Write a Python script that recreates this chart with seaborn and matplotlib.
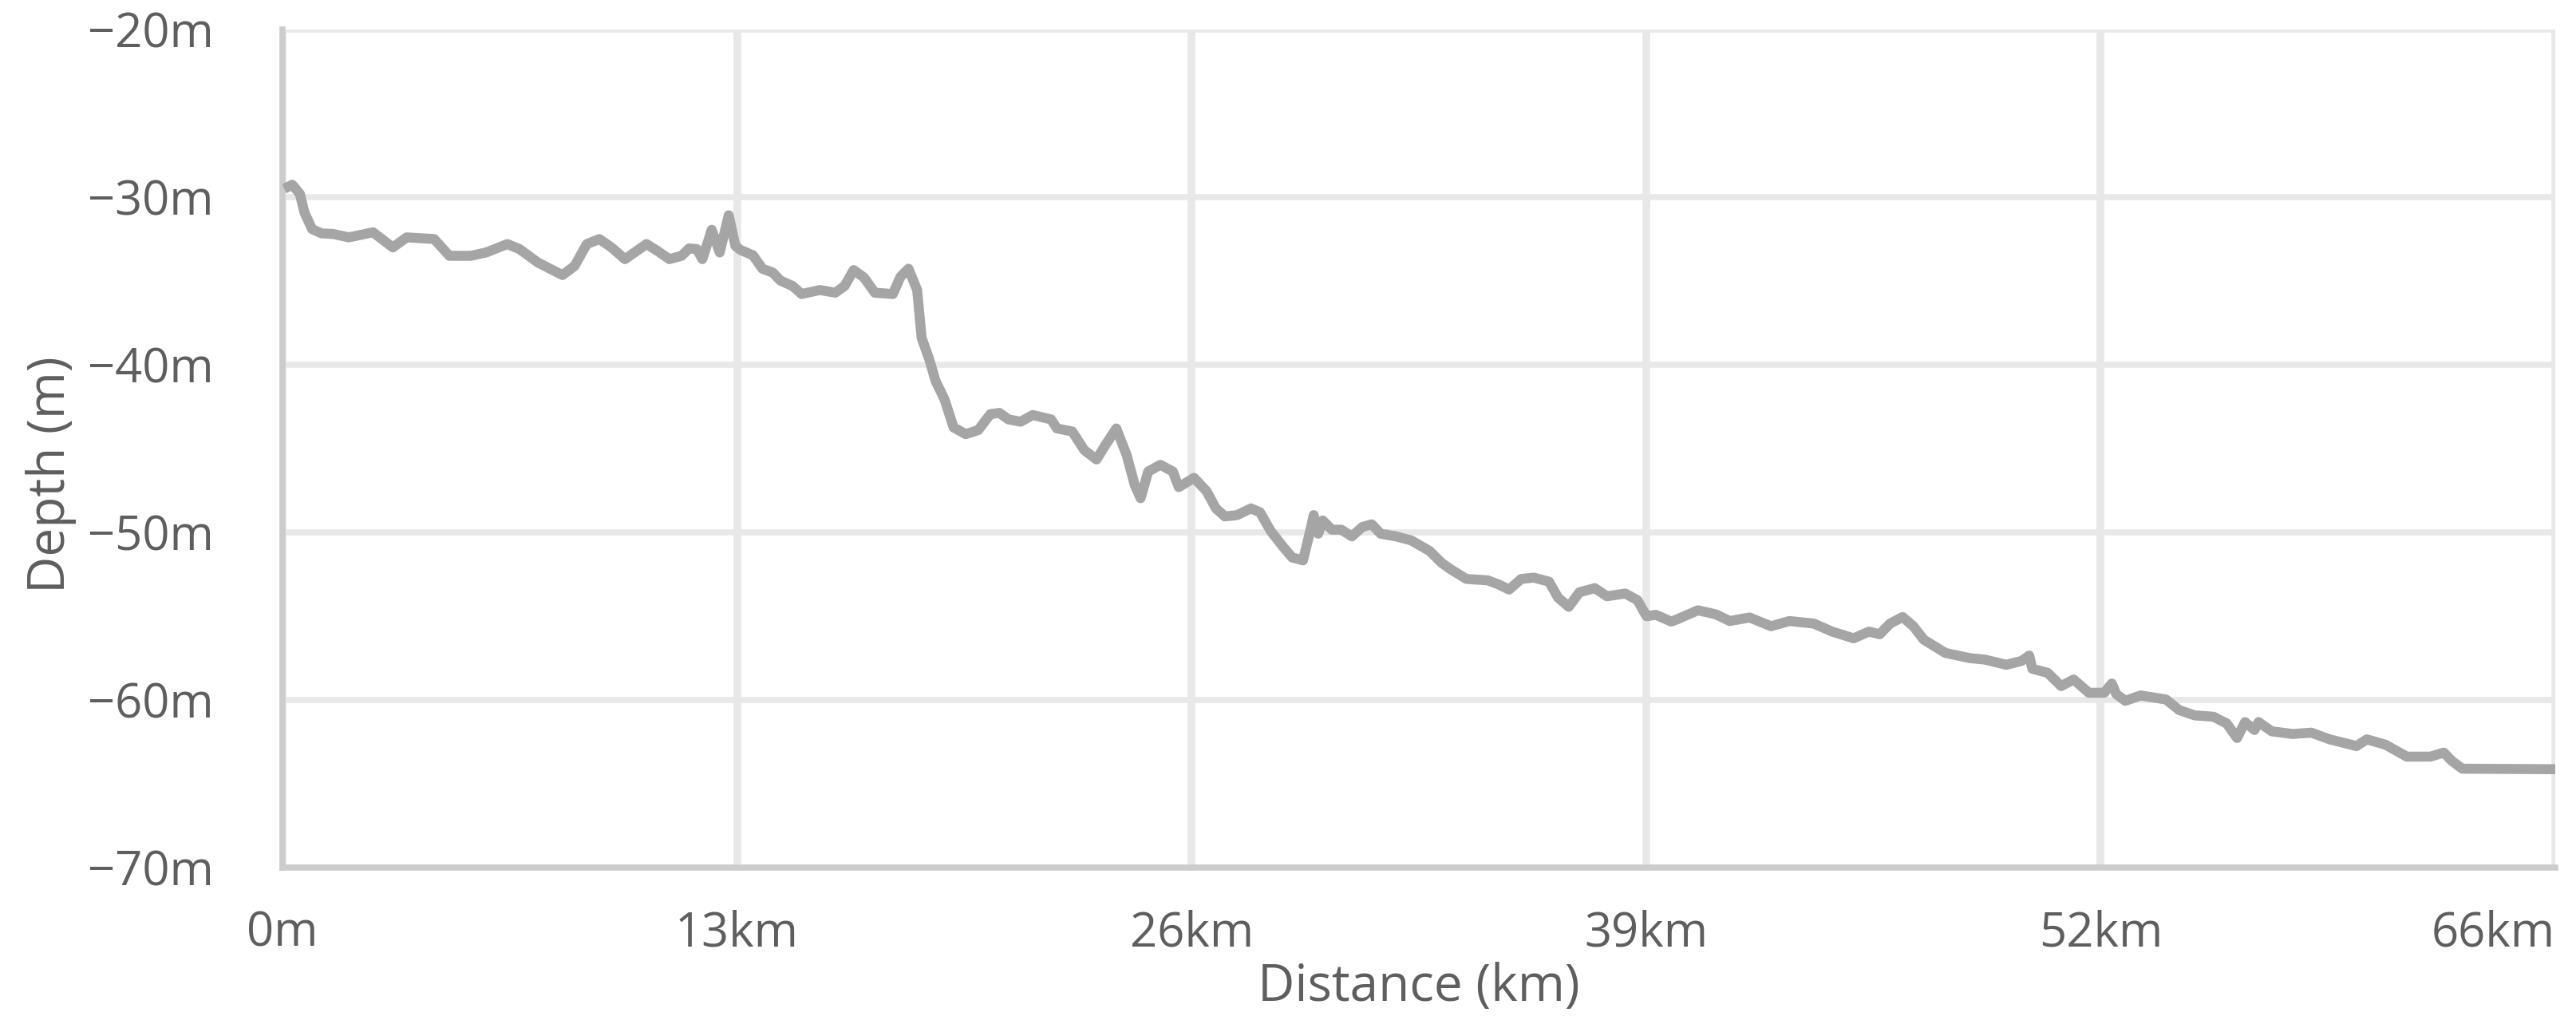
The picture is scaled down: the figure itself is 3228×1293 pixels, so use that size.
import matplotlib.pyplot as plt
import numpy as np
import pandas as pd
import seaborn as sns


# depth profile
distance_km = [
    0.05, 0.28, 0.50, 0.63, 0.85, 1.12, 1.47, 1.91, 2.61, 3.18, 3.58, 4.37,
    4.81, 5.43, 5.87, 6.48, 6.83, 7.36, 8.07, 8.42, 8.77, 9.13, 9.48, 9.87,
    10.49, 10.80, 11.15, 11.50, 11.72, 11.94, 12.10, 12.37, 12.60, 12.86,
    13.05, 13.20, 13.56, 13.83, 14.13, 14.35, 14.70, 14.96, 15.49, 15.93,
    16.20, 16.46, 16.76, 17.07, 17.59, 17.81, 18.04, 18.29, 18.42, 18.64,
    18.82, 19.08, 19.34, 19.69, 20.05, 20.40, 20.66, 20.92, 21.27, 21.62,
    22.15, 22.32, 22.76, 23.11, 23.46, 23.72, 24.03, 24.33, 24.56, 24.73,
    24.95, 25.30, 25.66, 25.83, 26.27, 26.63, 26.90, 27.16, 27.51, 27.91,
    28.17, 28.48, 28.84, 29.10, 29.41, 29.58, 29.72, 29.85, 29.98, 30.24,
    30.51, 30.82, 31.12, 31.39, 31.65, 32.09, 32.53, 33.06, 33.41, 33.68,
    34.12, 34.73, 35.04, 35.35, 35.70, 36.06, 36.50, 36.76, 37.07, 37.38,
    37.82, 38.17, 38.70, 39.05, 39.31, 39.58, 40.02, 40.17, 40.79, 41.31,
    41.71, 42.28, 42.90, 43.43, 44.13, 44.66, 45.28, 45.72, 46.03, 46.33,
    46.69, 47.00, 47.30, 47.92, 48.62, 49.06, 49.68, 50.12, 50.34, 50.43,
    50.87, 51.26, 51.62, 52.06, 52.50, 52.72, 52.85, 53.11, 53.55, 54.28,
    54.66, 55.11, 55.65, 56.03, 56.33, 56.56, 56.83, 56.95, 57.33, 57.94,
    58.47, 59.00, 59.77, 60.07, 60.61, 61.22, 61.90, 62.29, 62.51, 62.82,
    65.50
]
depth_m = [
    -29.50, -29.26, -29.80, -30.90, -31.90, -32.16, -32.20, -32.40, -32.10,
    -33.00, -32.40, -32.50, -33.50, -33.50, -33.30, -32.80, -33.10, -33.90,
    -34.65, -34.10, -32.80, -32.50, -33.00, -33.70, -32.80, -33.20, -33.70,
    -33.50, -33.06, -33.10, -33.70, -31.95, -33.30, -31.08, -32.90, -33.15,
    -33.47, -34.27, -34.50, -34.98, -35.30, -35.78, -35.54, -35.70, -35.30,
    -34.35, -34.80, -35.70, -35.78, -34.75, -34.27, -35.54, -38.40, -39.68,
    -40.96, -42.07, -43.74, -44.14, -43.90, -42.95, -42.87, -43.26, -43.40,
    -43.00, -43.26, -43.80, -43.98, -45.10, -45.65, -44.78, -43.80, -45.40,
    -47.17, -47.96, -46.37, -45.97, -46.37, -47.30, -46.75, -47.54, -48.57,
    -49.05, -48.97, -48.57, -48.80, -49.92, -50.87, -51.50, -51.67, -50.24,
    -48.97, -50.08, -49.29, -49.84, -49.84, -50.24, -49.68, -49.52, -50.08,
    -50.24, -50.48, -51.11, -51.83, -52.22, -52.78, -52.86, -53.10, -53.41,
    -52.78, -52.70, -52.94, -53.89, -54.44, -53.57, -53.33, -53.81, -53.65,
    -54.05, -55.00, -54.92, -55.32, -55.21, -54.65, -54.89, -55.29, -55.08,
    -55.60, -55.29, -55.44, -55.92, -56.32, -55.92, -56.08, -55.44, -55.05,
    -55.60, -56.40, -57.19, -57.50, -57.59, -57.90, -57.67, -57.35, -58.14,
    -58.38, -59.17, -58.78, -59.57, -59.57, -59.02, -59.65, -60.05, -59.73,
    -59.97, -60.60, -60.92, -61.00, -61.40, -62.27, -61.32, -61.79, -61.32,
    -61.87, -62.03, -61.95, -62.35, -62.75, -62.35, -62.67, -63.38, -63.38,
    -63.14, -63.62, -64.10, -64.13
]

total_km = 65.5
x_ticks = [0, 13.1, 26.2, 39.3, 52.4, 65.5]
x_tick_labels = ['0m', '13km', '26km', '39km', '52km', '66km']
y_ticks = [-70, -60, -50, -40, -30, -20]
y_tick_labels = ['\u221270m', '\u221260m', '\u221250m', '\u221240m',
                 '\u221230m', '\u221220m']

df = pd.DataFrame({'distance': distance_km, 'depth': depth_m})

sns.set_theme(style='whitegrid')
plt.rcParams['font.family'] = ['Open Sans', 'DejaVu Sans']

fig = plt.figure(figsize=(32.28, 12.93), dpi=100)
ax = fig.add_axes([354 / 3228, 1 - 1087 / 1293, 2848 / 3228, 1050 / 1293])

sns.lineplot(data=df, x='distance', y='depth', estimator=None, sort=False,
             color='#a5a5a5', linewidth=9, ax=ax, zorder=3,
             solid_joinstyle='round', solid_capstyle='butt')

ax.set_xlim(0, total_km)
ax.set_ylim(-70, -20)
ax.set_xticks(x_ticks)
ax.set_xticklabels(x_tick_labels)
ax.set_yticks(y_ticks)
ax.set_yticklabels(y_tick_labels)
ax.get_xticklabels()[-1].set_horizontalalignment('right')

text_color = '#5e5e5e'
ax.xaxis.grid(True, color='#e8e8e8', linewidth=7)
ax.yaxis.grid(True, color='#e8e8e8', linewidth=5.5)
ax.tick_params(axis='x', direction='in', length=40, width=7,
               color='#d4d4d4', pad=38, labelsize=43, labelcolor=text_color)
ax.tick_params(axis='y', length=0, pad=62, labelsize=43,
               labelcolor=text_color)

for side in ['top', 'right']:
    ax.spines[side].set_visible(False)
for side in ['left', 'bottom']:
    ax.spines[side].set_visible(True)
    ax.spines[side].set_color('#cccccc')
    ax.spines[side].set_linewidth(5.5)

ax.set_xlabel('Distance (km)', fontsize=46, color=text_color)
ax.set_ylabel('Depth (m)', fontsize=46, color=text_color)
ax.xaxis.set_label_coords(0.5, -0.112)
ax.yaxis.set_label_coords(-0.0906, 0.4686)

fig.savefig('out.png', dpi=100)
